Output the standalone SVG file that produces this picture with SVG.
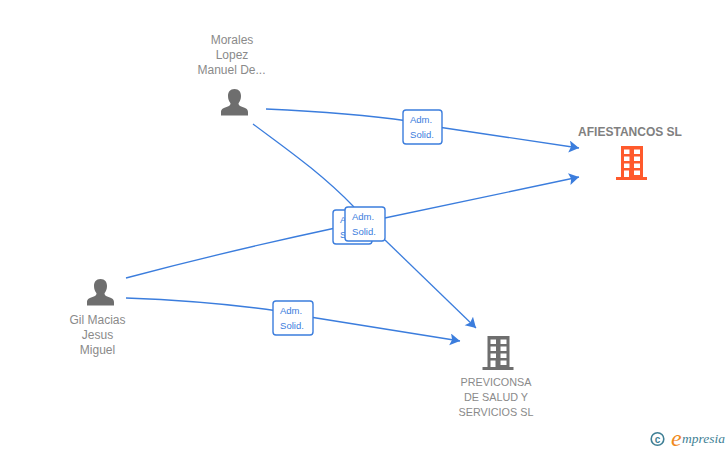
<svg xmlns="http://www.w3.org/2000/svg" width="728" height="450" viewBox="0 0 728 450">
<style>
text{font-family:"Liberation Sans",Arial,sans-serif}
.n{font-size:12px;fill:#8a8a8a;text-anchor:middle}
.s{font-size:10.800px;fill:#8a8a8a;text-anchor:middle}
.t{font-size:12px;font-weight:bold;fill:#808080;text-anchor:middle}
.e{fill:none;stroke:#3b7ddd;stroke-width:1.300}
.b{fill:#fff;stroke:#3b7ddd;stroke-width:1.400}
.l{font-size:9.500px;fill:#3b7ddd;text-anchor:middle}
</style>
<defs>
<marker id="a" markerUnits="userSpaceOnUse" markerWidth="14" markerHeight="14" refX="10" refY="6" orient="auto"><path d="M0 0L10 6L0 12L2 6Z" fill="#3b7ddd"/></marker>
<g id="p"><path d="M0 0c4.500 0 6.500 3.200 6.500 7c0 3-1 5.500-2.500 7.300c0 2 1 2.800 4 3.800c4 1.300 5.500 2.300 5.500 5.400v3h-27v-3c0-3.100 1.500-4.100 5.500-5.400c3-1 4-1.800 4-3.800c-1.500-1.800-2.500-4.300-2.500-7.300c0-3.800 2-7 6.500-7z" fill="#6e6e6e"/></g>
<g id="c"><path fill-rule="evenodd" d="M-11 0H11V31H15V34H-16V31H-11ZM-8 3.500V8H-2.500V3.500ZM2 3.500V8H8V3.500ZM-8 10.500V15H-2.500V10.500ZM2 10.500V15H8V10.500ZM-8 17.500V22H-2.500V17.500ZM2 17.500V22H8V17.500ZM-8 24.500V31H-3V24.500ZM2 24.500V29H8V24.500Z"/></g>
</defs>
<g id="connectors">
<path class="e" d="M266 109C310 111 360 114 408 121"/>
<path class="e" marker-end="url(#a)" d="M438 127L579 148"/>
<path class="e" d="M253 124C285 148 320 172 354 207"/>
<path class="e" marker-end="url(#a)" d="M385 240L476 328"/>
<path class="e" d="M126 278C190 261 270 242 340 227"/>
<path class="e" marker-end="url(#a)" d="M380 219L579 177"/>
<path class="e" d="M126 298C180 300 230 304 278 311"/>
<path class="e" marker-end="url(#a)" d="M310 317L460 341"/>
</g>
<g id="node-morales">
<text class="n" x="232" y="44">Morales</text><text class="n" x="232" y="59">Lopez</text><text class="n" x="231.500" y="74">Manuel De...</text>
<use href="#p" x="234.500" y="89"/>
</g>
<g id="node-gil">
<text class="n" x="97.500" y="324">Gil Macias</text><text class="n" x="97.500" y="339">Jesus</text><text class="n" x="97.500" y="354">Miguel</text>
<use href="#p" x="100.500" y="279"/>
</g>
<g id="node-afiestancos">
<text class="t" x="630" y="136">AFIESTANCOS SL</text>
<use href="#c" x="632" y="146" fill="#ff5a2c"/>
</g>
<g id="node-previconsa">
<use href="#c" x="498.500" y="336" fill="#6e6e6e"/>
<text class="s" x="496" y="386">PREVICONSA</text><text class="s" x="496" y="401">DE SALUD Y</text><text class="s" x="496" y="416">SERVICIOS SL</text>
</g>
<g id="label-1"><rect class="b" x="403" y="110" width="39" height="34" rx="3"/><text class="l" x="421" y="123">Adm.</text><text class="l" x="422" y="138">Solid.</text></g>
<g id="label-2"><rect class="b" x="273" y="301" width="40" height="34" rx="3"/><text class="l" x="291" y="314">Adm.</text><text class="l" x="292" y="329">Solid.</text></g>
<g id="label-3"><rect class="b" x="333" y="210" width="39" height="34" rx="3"/><text class="l" x="351" y="223">Adm.</text><text class="l" x="352" y="238">Solid.</text></g>
<g id="label-4"><rect class="b" x="345" y="207" width="40" height="34" rx="3"/><text class="l" x="363" y="220">Adm.</text><text class="l" x="364" y="235">Solid.</text></g>
<g id="logo">
<circle cx="657.500" cy="439" r="6.300" fill="none" stroke="#3f7f95" stroke-width="1.600"/>
<text x="657.500" y="442.500" font-size="10" font-weight="bold" fill="#3f7f95" text-anchor="middle">c</text>
<text x="671" y="446" font-size="24" font-style="italic" fill="#f08a1d" style="font-family:'Liberation Serif',serif">e</text>
<text x="682" y="443" font-size="12.500" font-style="italic" fill="#3f7f95" style="font-family:'Liberation Serif',serif" textLength="43" lengthAdjust="spacingAndGlyphs">mpresia</text>
</g>
</svg>
